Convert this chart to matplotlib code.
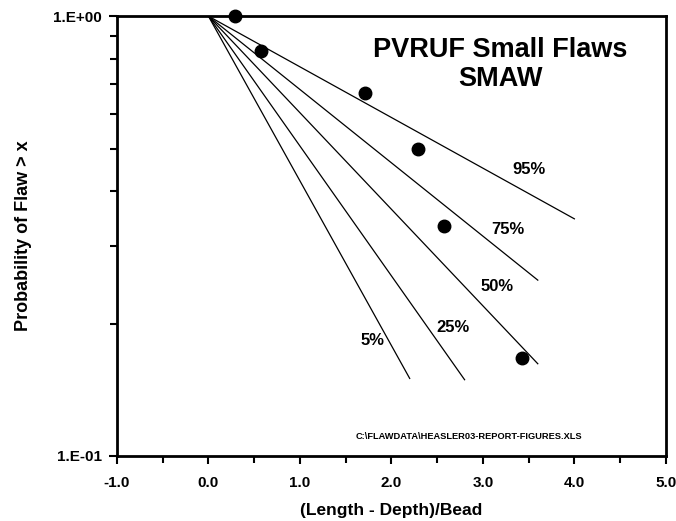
import matplotlib
matplotlib.use("Agg")
import matplotlib.pyplot as plt
from matplotlib.ticker import FixedLocator, NullFormatter

plt.rcParams["font.family"] = ["Liberation Sans", "DejaVu Sans"]
plt.rcParams["font.weight"] = "bold"

# observed flaws (length - depth)/bead vs exceedance probability
flaw_x = [0.286, 0.571, 1.714, 2.286, 2.571, 3.429]
flaw_p = [1.0, 0.833, 0.667, 0.5, 0.333, 0.167]

# confidence lines, from (0, 1) to end points
pct_labels = ["95%", "75%", "50%", "25%", "5%"]
line_x_end = [4.0, 3.6, 3.6, 2.8, 2.2]
line_p_end = [0.346, 0.251, 0.162, 0.149, 0.150]
label_x = [3.50, 3.27, 3.15, 2.67, 1.79]
label_y = [0.449, 0.328, 0.243, 0.196, 0.183]

fig = plt.figure(figsize=(6.76, 5.21), dpi=100)
ax = fig.add_axes([0.173, 0.125, 0.812, 0.844])

for xe, pe in zip(line_x_end, line_p_end):
    ax.plot([0.0, xe], [1.0, pe], color="black", lw=0.9)
for lab, lx, ly in zip(pct_labels, label_x, label_y):
    ax.text(lx, ly, lab, ha="center", va="center", fontsize=12, fontweight="bold")

ax.plot(flaw_x, flaw_p, "o", color="black", ms=9, clip_on=False, zorder=5)

ax.set_yscale("log")
ax.set_xlim(-1, 5)
ax.set_ylim(0.1, 1.0)
ax.set_xticks([-1, 0, 1, 2, 3, 4, 5])
ax.set_xticklabels(["-1.0", "0.0", "1.0", "2.0", "3.0", "4.0", "5.0"])
ax.xaxis.set_minor_locator(FixedLocator([-0.5, 0.5, 1.5, 2.5, 3.5, 4.5]))
ax.set_yticks([0.1, 1.0])
ax.set_yticklabels(["1.E-01", "1.E+00"])
ax.yaxis.set_minor_locator(FixedLocator([0.2, 0.3, 0.4, 0.5, 0.6, 0.7, 0.8, 0.9]))
ax.yaxis.set_minor_formatter(NullFormatter())
ax.tick_params(which="both", direction="out", width=1.5, labelsize=11)
ax.tick_params(which="major", length=6)
ax.tick_params(which="minor", length=5)
ax.tick_params(axis="x", which="major", pad=8.5)
ax.tick_params(axis="y", which="major", pad=5)
for sp in ax.spines.values():
    sp.set_linewidth(2)

ax.set_xlabel("(Length - Depth)/Bead", fontsize=12.5, fontweight="bold", labelpad=9)
ax.set_ylabel("Probability of Flaw > x", fontsize=13, fontweight="bold", labelpad=15)

ax.text(0.698, 0.891, "PVRUF Small Flaws\nSMAW", transform=ax.transAxes,
        ha="center", va="center", fontsize=19.5, fontweight="bold", linespacing=1.15)
ax.text(0.641, 0.043, "C:\\FLAWDATA\\HEASLER03-REPORT-FIGURES.XLS", transform=ax.transAxes,
        ha="center", va="center", fontsize=6.7, fontweight="bold")

fig.savefig("out.png", dpi=100)
